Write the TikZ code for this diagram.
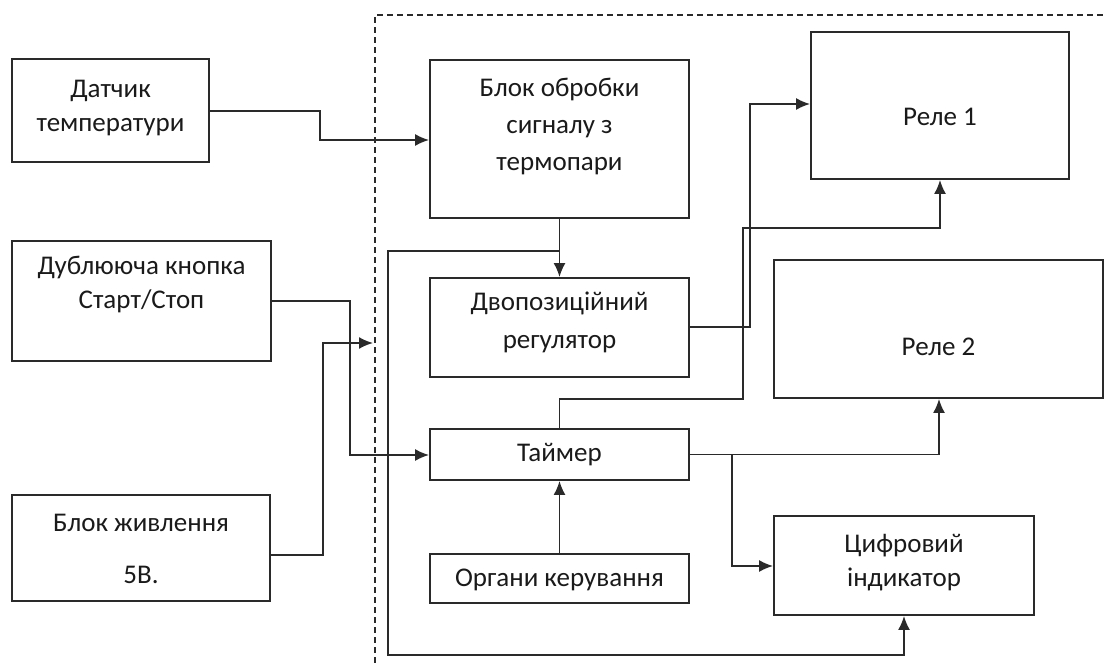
\documentclass[tikz,border=0pt]{standalone}
\usepackage{fontspec}
\setmainfont{Carlito}
\usetikzlibrary{arrows.meta}
\definecolor{lc}{HTML}{2A2A2A}
\definecolor{tc}{HTML}{1A1A1A}
\begin{document}
\begin{tikzpicture}[x=1pt,y=-1pt,
  blk/.style={draw=lc, line width=1.8pt, rectangle, inner sep=0pt},
  txt/.style={font=\fontsize{27}{34}\selectfont, text=tc, align=center, inner sep=0pt},
  wire/.style={draw=lc, line width=1.8pt},
  arr/.style={wire, -{Latex[length=14pt,width=12pt]}},
  bnd/.style={draw=lc, line width=1.5pt, dash pattern=on 6pt off 4pt}]
\useasboundingbox (0,0) rectangle (1105,663);
% boxes
\node[blk, minimum width=197pt, minimum height=103pt] (sens) at (110.5,110.5) {};
\node[blk, minimum width=259pt, minimum height=120pt] (dup) at (141.5,301) {};
\node[blk, minimum width=258pt, minimum height=106pt] (pwr) at (141,548) {};
\node[blk, minimum width=259pt, minimum height=158pt] (proc) at (559.5,139) {};
\node[blk, minimum width=259pt, minimum height=99pt] (reg) at (559.5,327.5) {};
\node[blk, minimum width=259pt, minimum height=51pt] (tim) at (559.5,454.5) {};
\node[blk, minimum width=259pt, minimum height=49pt] (ctl) at (559.5,578.5) {};
\node[blk, minimum width=258pt, minimum height=147pt] (rel1) at (940,105.5) {};
\node[blk, minimum width=329pt, minimum height=138pt] (rel2) at (938.5,329) {};
\node[blk, minimum width=260pt, minimum height=99pt] (dig) at (904,565.5) {};
% texts
\node[txt] (tsens) at (110.5,108.5) {Датчик\\температури};
\node[txt, font=\fontsize{27}{37}\selectfont] (tproc) at (559.5,126) {Блок обробки\\сигналу з\\термопари};
\node[txt] (tdup) at (141.5,284) {Дублююча кнопка\\Старт/Стоп};
\node[txt, font=\fontsize{27}{38}\selectfont] (treg) at (559.5,322) {Двопозиційний\\регулятор};
\node[txt] (ttim) at (559.5,455) {Таймер};
\node[txt] (tctl) at (559.5,580) {Органи керування};
\node[txt, font=\fontsize{27}{52}\selectfont] (tpwr) at (141,549) {Блок живлення\\5В.};
\node[txt] (trel1) at (940,117) {Реле 1};
\node[txt] (trel2) at (938.5,347) {Реле 2};
\node[txt] (tdig) at (904,563) {Цифровий\\індикатор};
% boundary
\coordinate (bb) at (375,663);
\coordinate (bt) at (375,15);
\coordinate (br) at (1105,15);
\draw[bnd] (bb) -- (bt) -- (br);
% connectors
\draw[arr] (sens.east |- 0,111) -- (320,111) -- (320,140) -- (proc.west |- 0,140);
\draw[arr] (proc.south) -- (reg.north);
\coordinate (fb) at (559.5,251);
\draw[arr] (fb) -- (388,251) -- (388,655) -- (904,655) -- (dig.south);
\draw[arr] (reg.east |- 0,327) -- (750,327) -- (750,104) -- (rel1.west |- 0,104);
\draw[arr] (tim.north) -- (559.5,399) -- (743,399) -- (743,228) -- (940,228) -- (rel1.south);
\draw[arr] (tim.east) -- (939,454.5) -- (rel2.south -| 939,0);
\coordinate (br2) at (732,454.5);
\draw[arr] (br2) -- (732,566) -- (dig.west |- 0,566);
\draw[arr] (ctl.north) -- (tim.south);
\draw[arr] (dup.east |- 0,301) -- (350,301) -- (350,455) -- (tim.west |- 0,455);
\coordinate (pin) at (373,343);
\draw[arr] (pwr.east |- 0,555) -- (323,555) -- (323,343) -- (pin);
\end{tikzpicture}
\end{document}
